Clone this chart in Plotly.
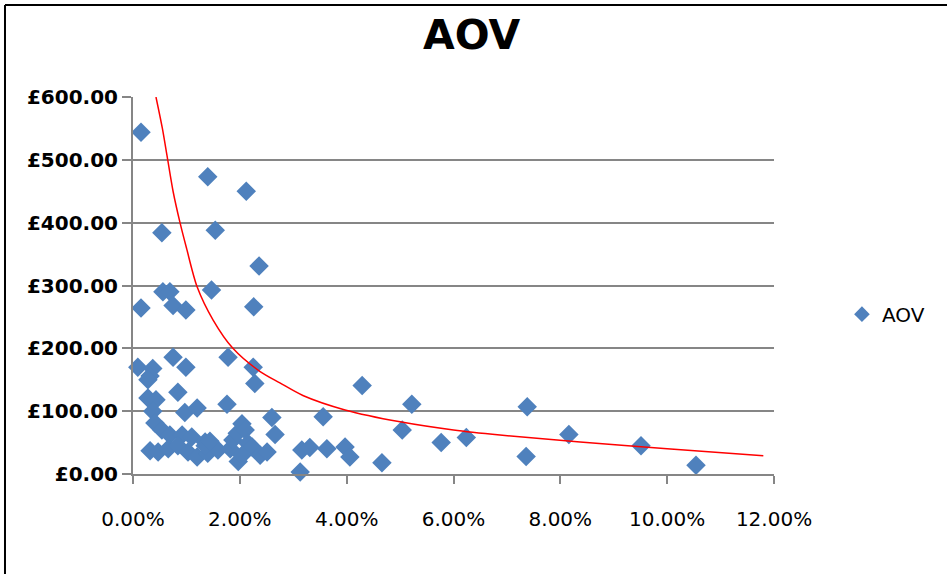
import plotly.graph_objects as go

# Conversion rate (%) and average order value (GBP) for each product
conv_pct = [0.15, 0.15, 0.54, 0.56, 0.69, 0.75, 0.99, 1.40, 1.54, 1.47, 2.12, 2.36, 2.26,
            0.09, 0.37, 0.32, 0.28, 0.75, 0.99, 1.78, 2.25, 2.28,
            0.28, 0.43, 0.37, 0.84, 0.97, 1.20, 1.76, 2.60,
            0.41, 0.54, 0.69, 0.92, 1.10, 1.35, 0.32, 0.47, 0.66, 0.84, 1.03, 1.20, 1.40,
            1.35, 1.59, 1.44, 1.82, 1.87, 1.95, 2.04, 2.10, 2.15, 2.23, 1.97, 2.04, 2.38,
            2.51, 2.66, 3.13, 3.16, 3.31, 3.56, 3.63, 3.97, 4.06, 4.29, 4.66, 5.04, 5.22,
            5.77, 6.24, 7.38, 7.36, 8.16, 9.51, 10.54]
aov = [544, 264, 384, 290, 290, 268, 261, 473, 388, 293, 450, 331, 266,
       170, 168, 156, 150, 186, 170, 186, 170, 144,
       121, 118, 100, 130, 98, 105, 111, 90,
       81, 70, 62, 62, 59, 51, 37, 35, 40, 45, 35, 27, 33,
       45, 38, 52, 40, 54, 65, 80, 70, 49, 43, 20, 30, 30,
       35, 63, 3, 38, 42, 91, 40, 43, 27, 141, 18, 70, 111,
       50, 58, 107, 28, 63, 45, 14]

# Power trend line as plotted alongside the points
trend_pct = [0.43, 0.55, 0.64, 0.75, 0.88, 1.0, 1.2, 1.5, 1.87, 2.38, 2.75, 3.18, 3.97,
             5.0, 6.0, 6.87, 8.37, 10.0, 11.8]
trend_aov = [600, 550, 505, 450, 400, 360, 298, 245, 200, 163, 145, 125, 102,
             83, 70, 62, 51, 40, 29]

y_ticks = [0, 100, 200, 300, 400, 500, 600]
y_labels = ["£0.00", "£100.00", "£200.00", "£300.00", "£400.00", "£500.00", "£600.00"]
x_ticks = [0.00, 0.02, 0.04, 0.06, 0.08, 0.10, 0.12]
x_labels = ["0.00%", "2.00%", "4.00%", "6.00%", "8.00%", "10.00%", "12.00%"]

FONT = "DejaVu Sans"
GRID = "#868686"

fig = go.Figure()

fig.add_trace(go.Scatter(
    x=[v / 100 for v in conv_pct], y=aov, mode="markers", name="AOV",
    marker=dict(symbol="diamond", size=15, color="#4F81BD", line=dict(width=0)),
    cliponaxis=False,
))

fig.add_trace(go.Scatter(
    x=[v / 100 for v in trend_pct], y=trend_aov, mode="lines",
    line=dict(color="#FF0000", width=1.5, shape="spline", smoothing=0.8),
    showlegend=False, hoverinfo="skip",
))

# Outer chart frame (left and top edges)
frame = dict(type="line", xref="paper", yref="paper", line=dict(color="black", width=2))
fig.add_shape(**frame, x0=-0.1997, x1=-0.1997, y0=1.244, y1=-0.27)
fig.add_shape(**frame, x0=-0.1997, x1=1.3, y0=1.244, y1=1.244)

fig.update_layout(
    width=947, height=574,
    margin=dict(l=133, r=173, t=97, b=100),
    paper_bgcolor="white", plot_bgcolor="white",
    font=dict(family=FONT, color="black"),
    title=dict(text="<b>AOV</b>", x=0.498, xref="container", xanchor="center",
               y=1 - 35 / 574, yref="container", yanchor="middle",
               font=dict(family=FONT, size=41, color="black")),
    legend=dict(x=1.106, y=0.424, xanchor="left", yanchor="middle",
                font=dict(family=FONT, size=20, color="black"),
                bgcolor="rgba(0,0,0,0)", itemsizing="constant"),
    xaxis=dict(range=[0, 0.12], tickmode="array", tickvals=x_ticks, ticktext=x_labels,
               showgrid=False, zeroline=False, showline=True, linecolor=GRID, linewidth=2,
               ticks="outside", ticklen=8, tickcolor=GRID, tickwidth=1.5,
               ticklabelstandoff=18,
               tickfont=dict(family=FONT, size=20, color="black")),
    yaxis=dict(range=[0, 600], tickmode="array", tickvals=y_ticks,
               ticktext=[f"<b>{t}</b>" for t in y_labels],
               showgrid=True, gridcolor=GRID, gridwidth=2, zeroline=False,
               showline=True, linecolor=GRID, linewidth=2,
               ticks="outside", ticklen=9, tickcolor=GRID, tickwidth=1.5,
               tickfont=dict(family=FONT, size=20, color="black")),
)

fig.write_html("out.html")
